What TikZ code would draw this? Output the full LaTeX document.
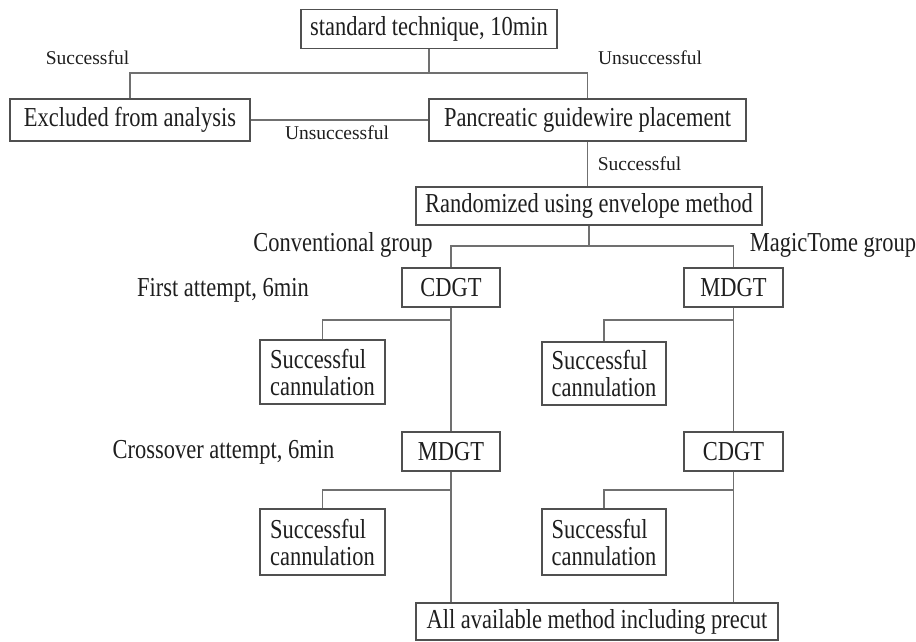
\documentclass[tikz,border=0pt]{standalone}
\usepackage{fontspec}
\setmainfont{Liberation Serif}[FakeStretch=0.82]
\newfontfamily\lblfont{Liberation Serif}
\definecolor{linegray}{HTML}{707070}
\definecolor{boxgray}{HTML}{505050}
\definecolor{txt}{HTML}{1E1E1E}
\begin{document}
\begin{tikzpicture}[x=1pt,y=-1pt,
  box/.style={draw=boxgray,line width=1.2pt,rectangle,inner sep=0pt,
    text=txt,font=\fontsize{27.4}{27}\selectfont},
  twobox/.style={box,align=left},
  lbl/.style={inner sep=0pt,text=txt,font=\fontsize{27.4}{27}\selectfont},
  slbl/.style={inner sep=0pt,text=txt,font=\lblfont\fontsize{19.5}{21}\selectfont},
  conn/.style={draw=linegray,line width=1.2pt}]
\useasboundingbox (0,0) rectangle (916,641);
% boxes
\node[box,minimum width=256pt,minimum height=39pt] (top) at (429,29) {standard technique, 10min};
\node[box,minimum width=240pt,minimum height=42pt] (excl) at (130,120) {Excluded from analysis};
\node[box,minimum width=317pt,minimum height=42pt] (panc) at (587.5,120) {Pancreatic guidewire placement};
\node[box,minimum width=346pt,minimum height=38pt] (rand) at (589,206) {Randomized using envelope method};
\node[box,minimum width=98pt,minimum height=39pt] (cdgtA) at (451,287.5) {CDGT};
\node[box,minimum width=99pt,minimum height=39pt] (mdgtA) at (733.5,287.5) {MDGT};
\node[twobox,minimum width=125pt,minimum height=64pt] (scA) at (322.5,372) {Successful\\cannulation};
\node[twobox,minimum width=124pt,minimum height=63pt] (scB) at (604,373.5) {Successful\\cannulation};
\node[box,minimum width=98pt,minimum height=39pt] (mdgtB) at (451,451.5) {MDGT};
\node[box,minimum width=99pt,minimum height=39pt] (cdgtB) at (733.5,451.5) {CDGT};
\node[twobox,minimum width=125pt,minimum height=66pt] (scC) at (322.5,542) {Successful\\cannulation};
\node[twobox,minimum width=124pt,minimum height=66pt] (scD) at (604,542) {Successful\\cannulation};
\node[box,minimum width=362pt,minimum height=37pt] (all) at (597,621.5) {All available method including precut};
% junctions
\coordinate (j1) at (429,73);
\coordinate (j2) at (589,246);
\coordinate (j3) at (451,320);
\coordinate (j4) at (733.5,320);
\coordinate (j5) at (451,490);
\coordinate (j6) at (733.5,490);
% connectors
\draw[conn] (top.south) -- (j1);
\draw[conn] (excl.north) |- (j1) -| (panc.north);
\draw[conn] (excl.east) -- (panc.west);
\draw[conn] (panc.south) -- (panc.south |- rand.north);
\draw[conn] (rand.south) -- (j2);
\draw[conn] (cdgtA.north) |- (j2) -| (mdgtA.north);
\draw[conn] (cdgtA.south) -- (mdgtB.north);
\draw[conn] (mdgtA.south) -- (cdgtB.north);
\draw[conn] (scA.north) |- (j3);
\draw[conn] (scB.north) |- (j4);
\draw[conn] (mdgtB.south) -- (mdgtB.south |- all.north);
\draw[conn] (cdgtB.south) -- (cdgtB.south |- all.north);
\draw[conn] (scC.north) |- (j5);
\draw[conn] (scD.north) |- (j6);
% labels
\node[slbl] (l1) at (87.5,58) {Successful};
\node[slbl] (l2) at (650,58) {Unsuccessful};
\node[slbl] (l3) at (337,133) {Unsuccessful};
\node[slbl] (l4) at (639.5,164) {Successful};
\node[lbl] (l5) at (343,245) {Conventional group};
\node[lbl] (l6) at (833,245) {MagicTome group};
\node[lbl] (l7) at (223,290) {First attempt, 6min};
\node[lbl] (l8) at (223.5,452) {Crossover attempt, 6min};
\end{tikzpicture}
\end{document}
